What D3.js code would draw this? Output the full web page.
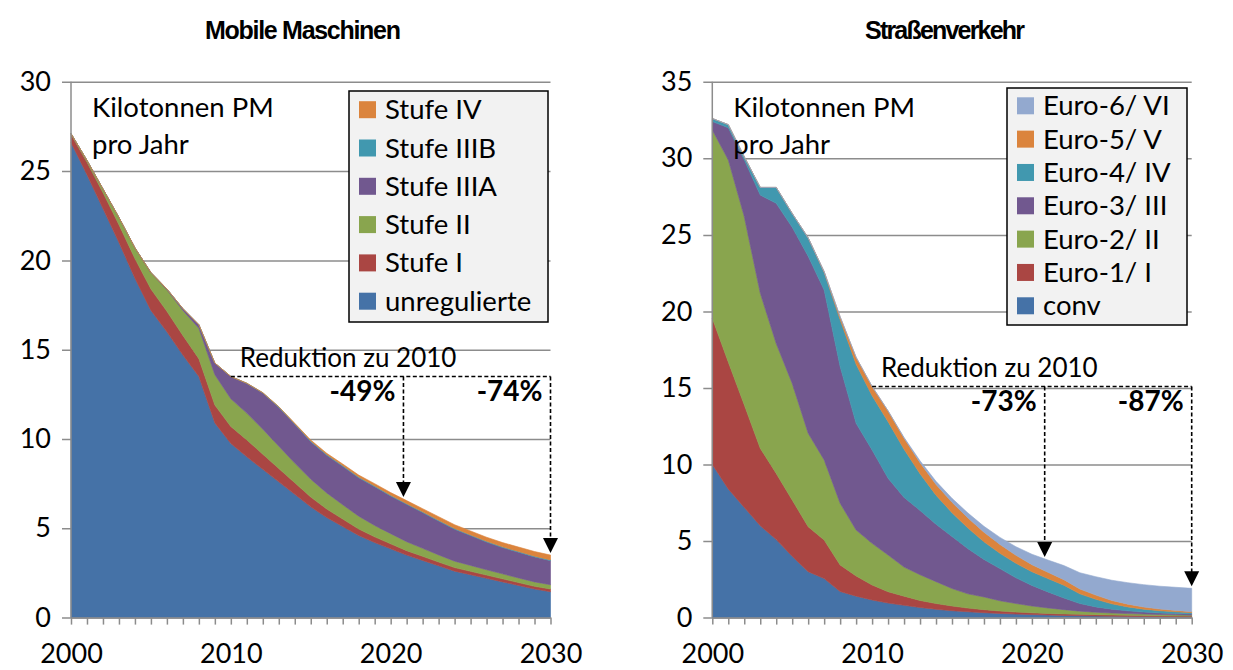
<!DOCTYPE html>
<html>
<head>
<meta charset="utf-8">
<script src="https://cdn.jsdelivr.net/npm/d3@7/dist/d3.min.js"></script>
<style>
  body { margin: 0; background: #fff; }
  svg { display: block; }
</style>
</head>
<body>
<svg id="chart" width="1233" height="670"></svg>
<script>
// years 2000..2030
const years = d3.range(2000, 2031);

// Mobile Maschinen, kt PM per year (bottom -> top)
const mmUnreguliert = [26.6, 24.8, 22.9, 21.0, 19.0, 17.2, 16.0, 14.7, 13.5, 10.9, 9.75, 9.0, 8.3, 7.6, 6.9, 6.2, 5.6, 5.1, 4.6, 4.2, 3.85, 3.5, 3.2, 2.9, 2.6, 2.4, 2.2, 2.0, 1.8, 1.6, 1.45];
const mmStufe1 = [0.45, 0.7, 0.9, 1.0, 1.1, 1.2, 1.15, 1.1, 1.0, 1.0, 0.95, 0.95, 0.85, 0.75, 0.65, 0.55, 0.48, 0.42, 0.36, 0.32, 0.28, 0.25, 0.23, 0.21, 0.2, 0.19, 0.18, 0.17, 0.16, 0.15, 0.15];
const mmStufe2 = [0.05, 0.1, 0.2, 0.4, 0.6, 0.9, 1.2, 1.4, 1.7, 1.7, 1.55, 1.5, 1.4, 1.25, 1.1, 1.0, 0.9, 0.8, 0.72, 0.64, 0.57, 0.5, 0.45, 0.4, 0.36, 0.33, 0.3, 0.28, 0.26, 0.25, 0.24];
const mmStufe3A = [0, 0, 0, 0, 0, 0.02, 0.05, 0.1, 0.2, 0.65, 1.25, 1.66, 2.02, 2.17, 2.17, 2.1, 2.11, 2.15, 2.15, 2.17, 2.11, 2.09, 2.0, 1.9, 1.79, 1.67, 1.55, 1.47, 1.44, 1.4, 1.35];
const mmStufe3B = [0, 0, 0, 0, 0, 0, 0, 0, 0, 0, 0, 0.01, 0.02, 0.03, 0.03, 0.04, 0.04, 0.04, 0.04, 0.04, 0.04, 0.04, 0.04, 0.04, 0.04, 0.04, 0.04, 0.04, 0.04, 0.04, 0.04];
const mmStufe4 = [0, 0, 0, 0, 0, 0, 0, 0, 0, 0, 0, 0, 0, 0.01, 0.03, 0.05, 0.07, 0.09, 0.11, 0.13, 0.15, 0.17, 0.18, 0.2, 0.21, 0.22, 0.23, 0.24, 0.25, 0.26, 0.27];

// Strassenverkehr, kt PM per year (bottom -> top)
const svConv = [10.0, 8.4, 7.2, 6.0, 5.1, 4.0, 3.0, 2.55, 1.7, 1.4, 1.15, 0.95, 0.8, 0.66, 0.54, 0.45, 0.38, 0.32, 0.27, 0.23, 0.2, 0.17, 0.14, 0.12, 0.1, 0.09, 0.08, 0.07, 0.06, 0.05, 0.05];
const svEuro1 = [9.55, 8.3, 6.7, 5.06, 4.32, 3.68, 2.94, 2.52, 1.74, 1.32, 0.98, 0.74, 0.6, 0.46, 0.38, 0.31, 0.24, 0.2, 0.16, 0.13, 0.11, 0.1, 0.1, 0.1, 0.09, 0.08, 0.07, 0.06, 0.06, 0.06, 0.05];
const svEuro2 = [12.3, 13.2, 12.3, 10.14, 8.48, 7.62, 6.1, 5.23, 4.03, 3.0, 2.72, 2.4, 1.9, 1.68, 1.43, 1.14, 0.93, 0.83, 0.67, 0.56, 0.45, 0.36, 0.28, 0.2, 0.16, 0.13, 0.11, 0.1, 0.08, 0.07, 0.06];
const svEuro3 = [0.55, 2.1, 3.7, 6.4, 9.16, 10.2, 11.56, 11.1, 8.93, 6.97, 6.1, 5.01, 4.55, 4.2, 3.75, 3.4, 2.95, 2.45, 2.1, 1.68, 1.34, 1.05, 0.76, 0.5, 0.35, 0.25, 0.18, 0.13, 0.1, 0.08, 0.08];
const svEuro4 = [0.2, 0.2, 0.2, 0.5, 1.04, 0.9, 1.2, 1.15, 3.05, 3.86, 3.55, 3.7, 3.15, 2.4, 1.9, 1.55, 1.35, 1.15, 1.0, 0.95, 0.9, 0.87, 0.84, 0.63, 0.5, 0.35, 0.26, 0.19, 0.15, 0.12, 0.08];
const svEuro5 = [0, 0, 0, 0, 0, 0, 0, 0.05, 0.2, 0.45, 0.6, 0.7, 0.72, 0.72, 0.7, 0.68, 0.66, 0.63, 0.58, 0.52, 0.46, 0.41, 0.36, 0.32, 0.27, 0.22, 0.18, 0.14, 0.11, 0.09, 0.07];
const svEuro6 = [0, 0, 0, 0, 0, 0, 0, 0, 0, 0, 0, 0, 0.05, 0.12, 0.2, 0.26, 0.32, 0.38, 0.46, 0.56, 0.68, 0.8, 0.92, 1.06, 1.2, 1.32, 1.4, 1.46, 1.49, 1.51, 1.52];

const mmLabels = ['unregulierte', 'Stufe I', 'Stufe II', 'Stufe IIIA', 'Stufe IIIB', 'Stufe IV'];
const svLabels = ['conv', 'Euro-1/ I', 'Euro-2/ II', 'Euro-3/ III', 'Euro-4/ IV', 'Euro-5/ V', 'Euro-6/ VI'];
const palette = ['#4572a7', '#aa4643', '#89a54e', '#71588f', '#4198af', '#db843d', '#93a9cf'];

const mmTicks = [0, 5, 10, 15, 20, 25, 30];
const svTicks = [0, 5, 10, 15, 20, 25, 30, 35];
const yearLabels = [2000, 2010, 2020, 2030];

// reduction annotations: reference year, arrow years, labels
const baseYear = 2010;
const arrowYears = [2020.8, 2030];
const mmReduction = ['-49%', '-74%'];
const svReduction = ['-73%', '-87%'];

const FONT = 'Lato, "Open Sans", sans-serif';
const GRID = '#8c8c8c';

const panels = [
  {
    title: 'Mobile Maschinen', titleX: 303, titleLen: 196,
    values: [mmUnreguliert, mmStufe1, mmStufe2, mmStufe3A, mmStufe3B, mmStufe4],
    labels: mmLabels, yMax: 30, ticks: mmTicks, reduction: mmReduction,
    left: 71, right: 550.5,
    legend: {x: 349, y: 91, w: 199, h: 231, first: 109.7, step: 38.3}
  },
  {
    title: 'Straßenverkehr', titleX: 945, titleLen: 160,
    values: [svConv, svEuro1, svEuro2, svEuro3, svEuro4, svEuro5, svEuro6],
    labels: svLabels, yMax: 35, ticks: svTicks, reduction: svReduction,
    left: 712.3, right: 1191.7,
    legend: {x: 1007, y: 88, w: 180, h: 237, first: 105.8, step: 33.33}
  }
];

const svg = d3.select('#chart');
svg.append('rect').attr('width', 1233).attr('height', 670).attr('fill', '#fff');

panels.forEach(p => drawPanel(p));

function drawPanel(p) {
  const x = d3.scaleLinear().domain([2000, 2030]).range([p.left, p.right]);
  const y = d3.scaleLinear().domain([0, p.yMax]).range([617.6, 81.8]);
  const g = svg.append('g');

  // gridlines + y labels
  const yAxis = g.append('g')
    .attr('transform', 'translate(' + p.right + ',0)')
    .call(d3.axisLeft(y).tickValues(p.ticks).tickSize(p.right - p.left + 9).tickPadding(11));
  yAxis.select('.domain').remove();
  yAxis.attr('font-family', FONT).attr('font-size', 27);
  yAxis.selectAll('.tick line').attr('stroke', GRID).attr('stroke-width', 1.5);
  yAxis.selectAll('.tick text').attr('fill', '#000');

  // stacked areas
  const keys = p.labels.map((_, i) => 's' + i);
  const rows = years.map((yr, i) => {
    const r = {year: yr};
    p.values.forEach((vals, k) => { r[keys[k]] = vals[i]; });
    return r;
  });
  const layers = d3.stack().keys(keys)(rows);
  const area = d3.area()
    .x(d => x(d.data.year))
    .y0(d => y(d[0]))
    .y1(d => y(d[1]));

  g.append('g')
    .selectAll('path')
    .data(layers)
    .enter()
    .append('path')
    .attr('d', area)
    .attr('fill', (d, i) => palette[i])
    .attr('stroke', (d, i) => palette[i])
    .attr('stroke-width', 0.6);

  // x axis with a tick per year
  const xAxis = g.append('g')
    .attr('transform', 'translate(0,' + y(0) + ')')
    .call(d3.axisBottom(x).tickValues(years).tickSize(7).tickSizeOuter(0).tickPadding(19)
      .tickFormat(d => yearLabels.includes(d) ? d : ''));
  xAxis.attr('font-family', FONT).attr('font-size', 27);
  xAxis.select('.domain').attr('stroke', GRID).attr('stroke-width', 1.5);
  xAxis.selectAll('.tick line').attr('stroke', GRID).attr('stroke-width', 1.5);
  xAxis.selectAll('.tick text').attr('fill', '#000');

  // y axis line
  g.append('line')
    .attr('x1', p.left).attr('x2', p.left)
    .attr('y1', y(0)).attr('y2', y(p.yMax))
    .attr('stroke', GRID).attr('stroke-width', 1.5);

  // title
  g.append('text')
    .attr('x', p.titleX).attr('y', 39)
    .attr('text-anchor', 'middle')
    .attr('font-family', '"Liberation Sans", Arial, sans-serif')
    .attr('font-weight', 'bold')
    .attr('font-size', 25)
    .attr('textLength', p.titleLen)
    .attr('lengthAdjust', 'spacing')
    .text(p.title);

  // unit note
  const note = g.append('text')
    .attr('font-family', FONT).attr('font-size', 27.5).attr('fill', '#000');
  note.append('tspan').attr('x', p.left + 21).attr('y', 117).text('Kilotonnen PM');
  note.append('tspan').attr('x', p.left + 21).attr('y', 154).text('pro Jahr');

  // reduction annotation
  const totals = rows.map(r => d3.sum(keys, k => r[k]));
  const totalAt = yr => {
    const i0 = Math.floor(yr - 2000);
    const i1 = Math.min(i0 + 1, totals.length - 1);
    return d3.interpolateNumber(totals[i0], totals[i1])(yr - 2000 - i0);
  };
  const lineY = y(totalAt(baseYear));
  const ann = g.append('g');
  ann.append('line')
    .attr('x1', x(baseYear)).attr('x2', x(2030))
    .attr('y1', lineY).attr('y2', lineY)
    .attr('stroke', '#000').attr('stroke-width', 1.6).attr('stroke-dasharray', '4,2.5');
  ann.append('text')
    .attr('x', x(baseYear) + 9).attr('y', lineY - 9)
    .attr('font-family', FONT).attr('font-size', 26)
    .text('Reduktion zu ' + baseYear);

  arrowYears.forEach((yr, i) => {
    const ax = x(yr);
    const tip = y(totalAt(yr)) - 2;
    ann.append('line')
      .attr('x1', ax).attr('x2', ax)
      .attr('y1', lineY).attr('y2', tip - 14)
      .attr('stroke', '#000').attr('stroke-width', 1.6).attr('stroke-dasharray', '4,2.5');
    ann.append('path')
      .attr('d', 'M' + (ax - 7.5) + ',' + (tip - 15) + 'L' + (ax + 7.5) + ',' + (tip - 15) + 'L' + ax + ',' + tip + 'Z')
      .attr('fill', '#000');
    ann.append('text')
      .attr('x', ax - 8).attr('y', lineY + 25)
      .attr('text-anchor', 'end')
      .attr('font-family', FONT).attr('font-size', 28).attr('font-weight', 'bold')
      .text(p.reduction[i]);
  });

  // legend (top series first)
  const L = p.legend;
  const lg = g.append('g');
  lg.append('rect')
    .attr('x', L.x).attr('y', L.y).attr('width', L.w).attr('height', L.h)
    .attr('fill', '#f2f2f2').attr('stroke', '#000').attr('stroke-width', 1.5);
  const order = p.labels.map((lab, i) => ({lab, i})).reverse();
  const items = lg.selectAll('g.item')
    .data(order)
    .enter()
    .append('g')
    .attr('class', 'item')
    .attr('transform', (d, j) => 'translate(' + (L.x + 10) + ',' + (L.first + j * L.step) + ')');
  items.append('rect')
    .attr('x', 0).attr('y', -8.5).attr('width', 17).attr('height', 17)
    .attr('fill', d => palette[d.i]);
  items.append('text')
    .attr('x', 26).attr('y', 9.5)
    .attr('font-family', FONT).attr('font-size', 27.5)
    .text(d => d.lab);
}
</script>
</body>
</html>
